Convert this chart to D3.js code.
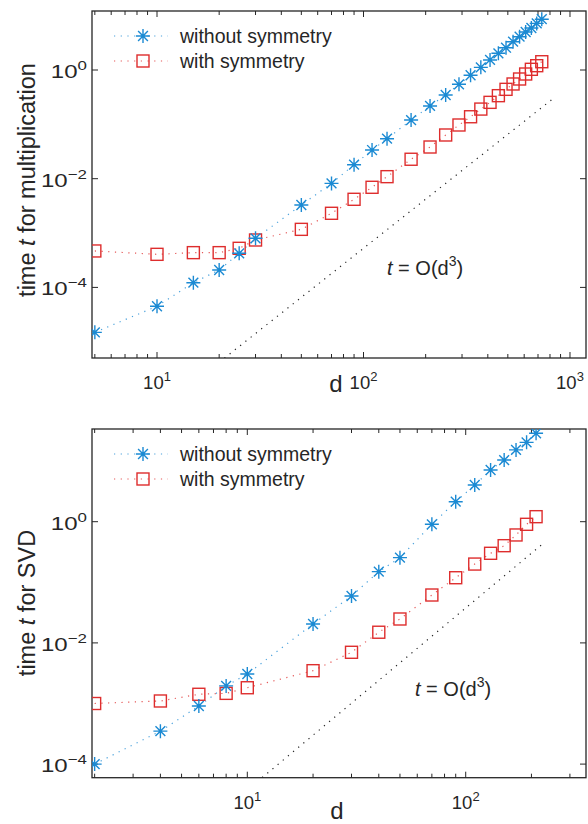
<!DOCTYPE html>
<html>
<head>
<meta charset="utf-8">
<script src="https://cdn.jsdelivr.net/npm/d3@7"></script>
<style>
  body { margin: 0; background: #fff; }
  svg text { font-family: "Liberation Sans", Arial, Helvetica, sans-serif; fill: #262626; }
</style>
</head>
<body>
<div id="chart"></div>
<script>
// matrix sizes and run times
let dMult = [5, 10, 15, 20, 25, 30, 50, 70, 90, 110, 130, 170, 210, 250, 290, 330, 370, 410, 450, 490, 530, 570, 610, 650, 690, 730]
let multWithout = [1.49e-5, 4.5e-5, 1.22e-4, 2.09e-4, 4.24e-4, 8.0e-4, 3.28e-3, 8.2e-3, 0.0181, 0.0337, 0.0545, 0.12, 0.218, 0.347, 0.546, 0.80, 1.12, 1.53, 2.03, 2.57, 3.32, 4.1, 5.0, 5.93, 7.2, 8.6]
let multWith = [4.68e-4, 4.06e-4, 4.36e-4, 4.36e-4, 5.24e-4, 7.45e-4, 1.17e-3, 2.31e-3, 4.18e-3, 6.95e-3, 0.0109, 0.0228, 0.0383, 0.0637, 0.0973, 0.138, 0.191, 0.254, 0.337, 0.441, 0.553, 0.683, 0.844, 1.03, 1.2, 1.42]
let multRef = [[21.2, 5.0e-6], [830, 0.30]]

let dSvd = [2, 4, 6, 8, 10, 20, 30, 40, 50, 70, 90, 110, 130, 150, 170, 190, 210]
let svdWithout = [1.0e-4, 3.5e-4, 9.1e-4, 1.95e-3, 3.07e-3, 0.0205, 0.0594, 0.15, 0.255, 0.906, 2.14, 4.03, 7.13, 10.4, 15.3, 20.4, 28.8]
let svdWith = [1.0e-3, 1.1e-3, 1.42e-3, 1.47e-3, 1.82e-3, 3.48e-3, 7.0e-3, 0.015, 0.0248, 0.0617, 0.119, 0.2, 0.301, 0.402, 0.604, 0.906, 1.21]
let svdRef = [[11.7, 6.0e-5], [225, 0.43]]

let seriesNames = ["without symmetry", "with symmetry"]
let yTicks = [1e-4, 1e-2, 1e0]
let multXTicks = [10, 100, 1000]
let svdXTicks = [10, 100]

const blue = "#1b8ad3"
const red = "#de2d2d"

var svg = d3.select("#chart").append("svg")
    .attr("width", 588)
    .attr("height", 824)

function supLabel(sel, v) {
    var e = Math.round(Math.log10(v))
    sel.append("tspan").text("10")
    sel.append("tspan")
        .attr("dy", -8)
        .style("font-size", "13px")
        .text(e < 0 ? "\u2212" + (-e) : e)
}

function starPath(s) {
    var a = s * 0.7
    return "M" + (-s) + ",0H" + s + "M0," + (-s) + "V" + s +
        "M" + (-a) + "," + (-a) + "L" + a + "," + a +
        "M" + (-a) + "," + a + "L" + a + "," + (-a)
}

function drawPanel(cfg) {
    var box = cfg.box
    var x = d3.scaleLog().domain(cfg.xDomain).range([box.left, box.right])
    var y = d3.scaleLog().domain(cfg.yDomain).range([box.bottom, box.top])
    var g = svg.append("g")

    g.append("clipPath").attr("id", cfg.id + "clip")
        .append("rect")
        .attr("x", box.left).attr("y", box.top)
        .attr("width", box.right - box.left).attr("height", box.bottom - box.top)

    // minor + major x ticks, inward on top and bottom
    var minor = []
    for (var k = -1; k < 4; k++) {
        for (var m = 1; m < 10; m++) {
            var v = m * Math.pow(10, k)
            if (v > cfg.xDomain[0] && v < cfg.xDomain[1]) minor.push({v: v, major: m == 1})
        }
    }
    minor.forEach(function(t) {
        var len = t.major ? 6 : 4
        g.append("line").attr("x1", x(t.v)).attr("x2", x(t.v))
            .attr("y1", box.bottom).attr("y2", box.bottom - len)
            .attr("stroke", "#262626").attr("stroke-width", 1)
        g.append("line").attr("x1", x(t.v)).attr("x2", x(t.v))
            .attr("y1", box.top).attr("y2", box.top + len)
            .attr("stroke", "#262626").attr("stroke-width", 1)
    })
    yTicks.forEach(function(t) {
        g.append("line").attr("x1", box.left).attr("x2", box.left + 6)
            .attr("y1", y(t)).attr("y2", y(t))
            .attr("stroke", "#262626").attr("stroke-width", 1)
        g.append("line").attr("x1", box.right).attr("x2", box.right - 6)
            .attr("y1", y(t)).attr("y2", y(t))
            .attr("stroke", "#262626").attr("stroke-width", 1)
    })

    g.append("rect")
        .attr("x", box.left).attr("y", box.top)
        .attr("width", box.right - box.left).attr("height", box.bottom - box.top)
        .attr("fill", "none").attr("stroke", "#262626").attr("stroke-width", 1.3)

    // tick labels (the y ones are drawn wider, as in the original)
    g.selectAll(".ylab").data(yTicks).enter().append("text")
        .attr("transform", function(d) { return "translate(" + (box.left - 5) + "," + (y(d) + 8) + ") scale(1.3,1)" })
        .attr("text-anchor", "end")
        .style("font-size", "18.5px")
        .each(function(d) { supLabel(d3.select(this), d) })
    g.selectAll(".xlab").data(cfg.xTicks).enter().append("text")
        .attr("x", function(d) { return x(d) })
        .attr("y", box.bottom + 31)
        .attr("text-anchor", "middle")
        .style("font-size", "18.5px")
        .each(function(d) { supLabel(d3.select(this), d) })

    // axis labels
    g.append("text")
        .attr("x", cfg.dLabel[0]).attr("y", cfg.dLabel[1])
        .attr("text-anchor", "middle")
        .style("font-size", "24px")
        .text("d")
    var yl = g.append("text")
        .attr("transform", "translate(35," + cfg.yLabelY + ") rotate(-90)")
        .attr("text-anchor", "middle")
        .style("font-size", "23.5px")
    yl.append("tspan").text("time ")
    yl.append("tspan").style("font-style", "italic").text("t")
    yl.append("tspan").text(" for " + cfg.yName)

    var plot = g.append("g").attr("clip-path", "url(#" + cfg.id + "clip)")
    var line = d3.line()
        .x(function(d) { return x(d[0]) })
        .y(function(d) { return y(d[1]) })

    plot.append("path")
        .attr("d", line(cfg.ref))
        .attr("fill", "none").attr("stroke", "#222")
        .attr("stroke-width", 1.2).attr("stroke-dasharray", "1.2,5.5")

    var series = [
        {name: seriesNames[0], color: blue, marker: "star", values: cfg.d.map(function(d, i) { return [d, cfg.without[i]] })},
        {name: seriesNames[1], color: red, marker: "square", values: cfg.d.map(function(d, i) { return [d, cfg.with[i]] })}
    ]

    series.forEach(function(s) {
        plot.append("path")
            .attr("d", line(s.values))
            .attr("fill", "none").attr("stroke", s.color).attr("stroke-opacity", 0.8)
            .attr("stroke-width", 1.2).attr("stroke-dasharray", "1.2,5.5")
    })
    series.slice().reverse().forEach(function(s) {
        drawMarkers(plot, s.values.map(function(v) { return [x(v[0]), y(v[1])] }), s)
    })

    // legend
    series.forEach(function(s, i) {
        var ly = box.top + 25 + i * 25
        g.append("line")
            .attr("x1", box.left + 22).attr("x2", box.left + 76)
            .attr("y1", ly).attr("y2", ly)
            .attr("stroke", s.color).attr("stroke-opacity", 0.8)
            .attr("stroke-width", 1.2).attr("stroke-dasharray", "1.2,5.5")
        drawMarkers(g, [[box.left + 51, ly]], s)
        g.append("text")
            .attr("x", box.left + 88).attr("y", ly + 7)
            .style("font-size", "19.5px")
            .text(s.name)
    })

    var note = g.append("text")
        .attr("x", cfg.note[0]).attr("y", cfg.note[1])
        .style("font-size", "20px")
    note.append("tspan").style("font-style", "italic").text("t")
    note.append("tspan").text(" = O(d")
    note.append("tspan").attr("dy", -9).style("font-size", "14px").text("3")
    note.append("tspan").attr("dy", 9).text(")")
}

function drawMarkers(parent, pts, s) {
    if (s.marker == "star") {
        parent.selectAll(null).data(pts).enter().append("path")
            .attr("transform", function(p) { return "translate(" + p[0] + "," + p[1] + ")" })
            .attr("d", starPath(7))
            .attr("fill", "none").attr("stroke", s.color).attr("stroke-width", 1.4)
    } else {
        parent.selectAll(null).data(pts).enter().append("rect")
            .attr("x", function(p) { return p[0] - 6 })
            .attr("y", function(p) { return p[1] - 6 })
            .attr("width", 12).attr("height", 12)
            .attr("fill", "none").attr("stroke", s.color).attr("stroke-width", 1.4)
    }
}

drawPanel({
    id: "mult",
    box: {left: 92, right: 586, top: 11, bottom: 358},
    xDomain: [Math.pow(10, 0.6852), Math.pow(10, 3.0775)],
    yDomain: [Math.pow(10, -5.299), Math.pow(10, 1.0856)],
    xTicks: multXTicks,
    d: dMult, without: multWithout, with: multWith, ref: multRef,
    dLabel: [336, 392],
    yLabelY: 180,
    yName: "multiplication",
    note: [387, 275]
})

drawPanel({
    id: "svd",
    box: {left: 92, right: 586, top: 429, bottom: 777.7},
    xDomain: [Math.pow(10, 0.2889), Math.pow(10, 2.5508)],
    yDomain: [Math.pow(10, -4.2244), Math.pow(10, 1.5297)],
    xTicks: svdXTicks,
    d: dSvd, without: svdWithout, with: svdWith, ref: svdRef,
    dLabel: [337, 819],
    yLabelY: 603,
    yName: "SVD",
    note: [415, 696]
})
</script>
</body>
</html>
